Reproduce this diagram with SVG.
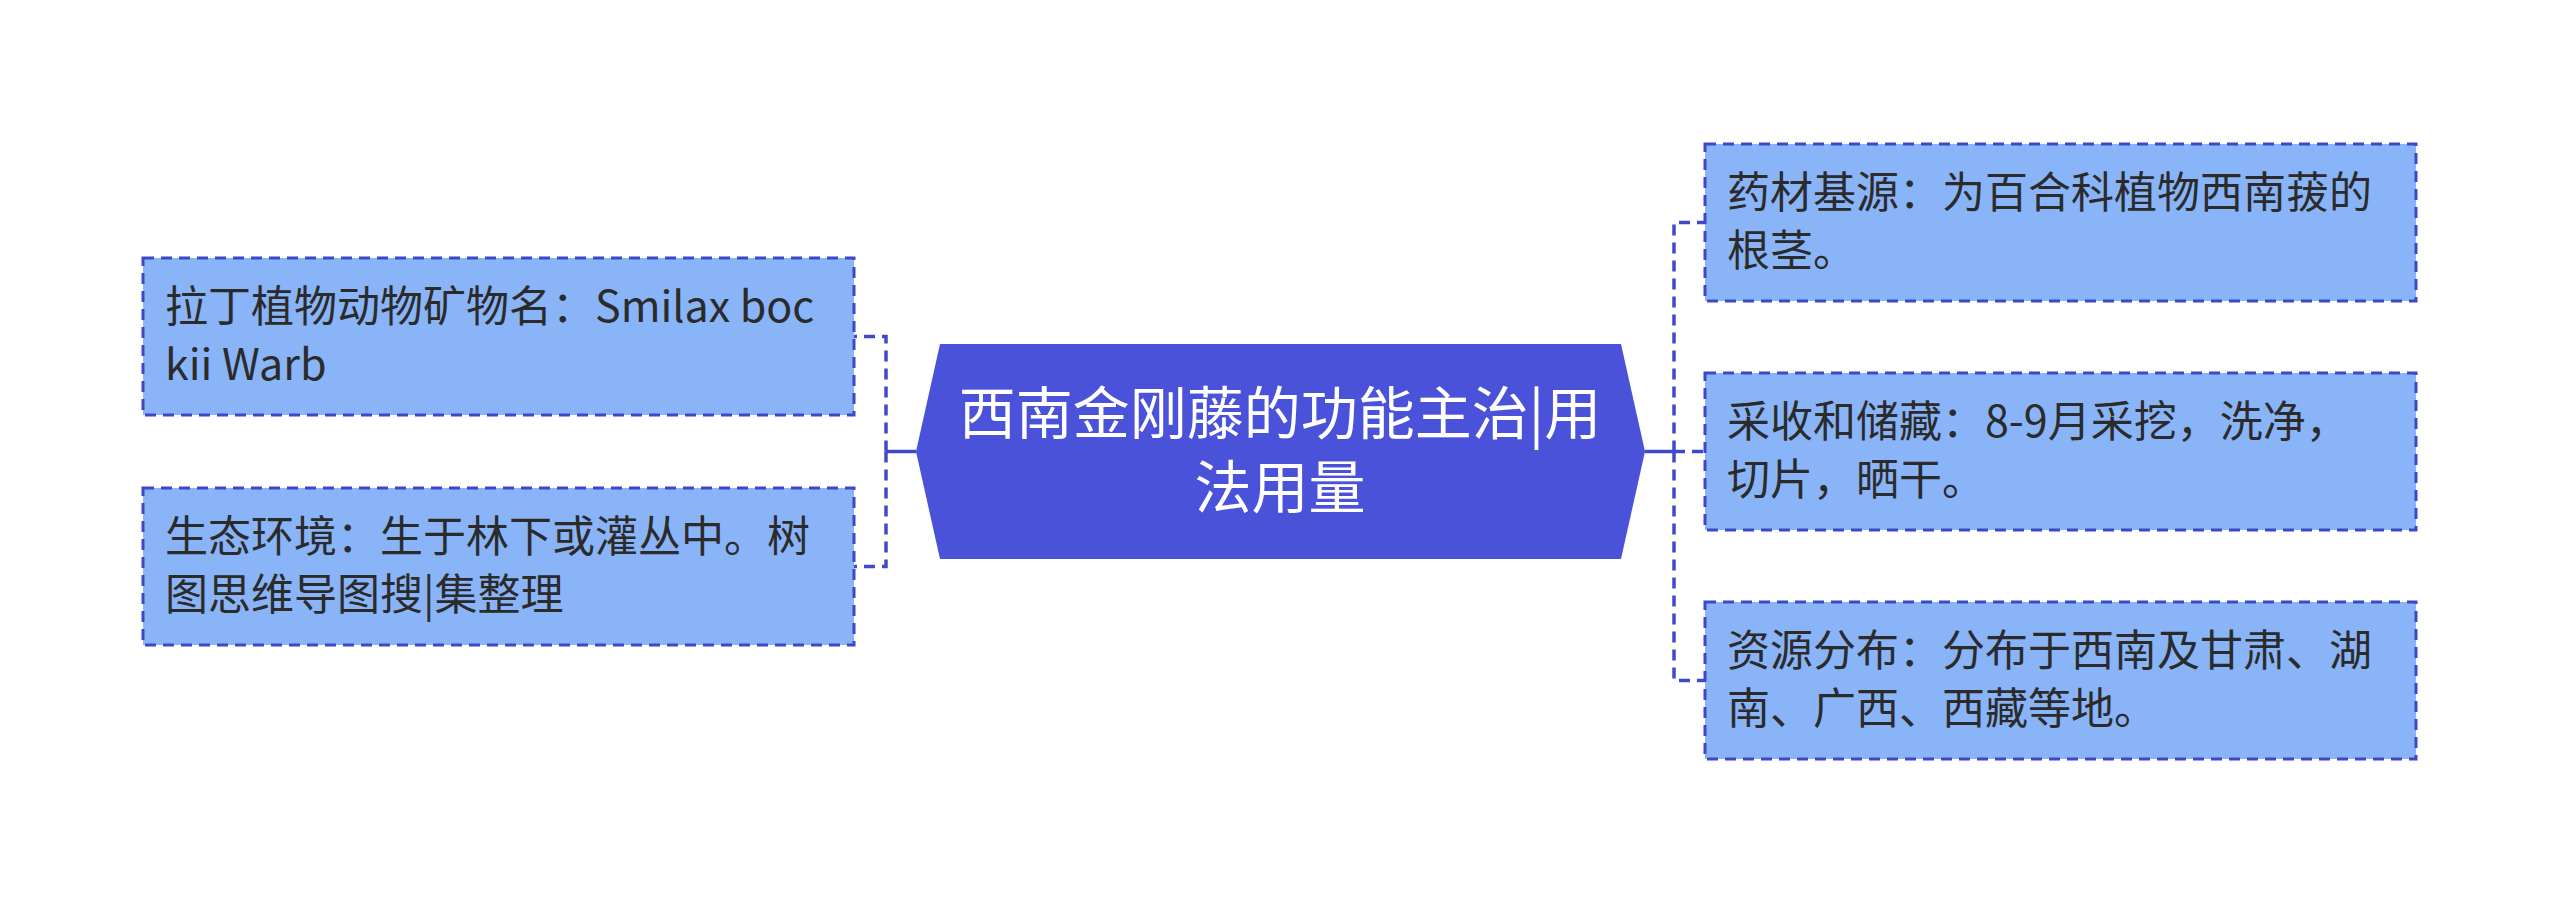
<svg xmlns="http://www.w3.org/2000/svg" width="2560" height="903" viewBox="0 0 2560 903">
<style>
.box{fill:#8AB4F8;stroke:#3F47C9;stroke-width:3;stroke-dasharray:11 7;}
.t{font-family:"Noto Sans CJK SC","Noto Sans",sans-serif;font-size:43px;fill:#2b2b2b;}
.ct{font-family:"Noto Sans CJK SC","Noto Sans",sans-serif;font-size:57px;fill:#ffffff;text-anchor:middle;}
.solid{fill:none;stroke:#4049CC;stroke-width:3.5;}
.dash{fill:none;stroke:#4049CC;stroke-width:3.5;stroke-dasharray:11 7;}
</style>
<rect width="2560" height="903" fill="#ffffff"/>
<g id="connectors">
<path class="solid" d="M916 451.5 H886"/>
<path class="dash" d="M886 451.5 V336.5 H854"/>
<path class="dash" d="M886 451.5 V566.5 H854"/>
<path class="solid" d="M1645 451.5 H1674"/>
<path class="dash" d="M1674 451.5 V222.5 H1705"/>
<path class="dash" d="M1674 451.5 H1705"/>
<path class="dash" d="M1674 451.5 V680.5 H1705"/>
</g>
<g id="root">
<polygon points="916,451.5 940,344 1621,344 1645,451.5 1621,559 940,559" fill="#4952D8"/>
<text class="ct" x="1280" y="434">西南金刚藤的功能主治|用</text>
<text class="ct" x="1280" y="508">法用量</text>
</g>
<g id="node-latin">
<rect class="box" x="143" y="258" width="711" height="157"/>
<text class="t" x="165" y="322">拉丁植物动物矿物名：Smilax boc</text>
<text class="t" x="165" y="380">kii Warb</text>
</g>
<g id="node-eco">
<rect class="box" x="143" y="488" width="711" height="157"/>
<text class="t" x="165" y="552">生态环境：生于林下或灌丛中。树</text>
<text class="t" x="165" y="610">图思维导图搜|集整理</text>
</g>
<g id="node-source">
<rect class="box" x="1705" y="144" width="711" height="157"/>
<text class="t" x="1727" y="208">药材基源：为百合科植物西南菝的</text>
<text class="t" x="1727" y="266">根茎。</text>
</g>
<g id="node-harvest">
<rect class="box" x="1705" y="373" width="711" height="157"/>
<text class="t" x="1727" y="437">采收和储藏：8-9月采挖，洗净，</text>
<text class="t" x="1727" y="495">切片，晒干。</text>
</g>
<g id="node-distribution">
<rect class="box" x="1705" y="602" width="711" height="157"/>
<text class="t" x="1727" y="666">资源分布：分布于西南及甘肃、湖</text>
<text class="t" x="1727" y="724">南、广西、西藏等地。</text>
</g>
</svg>
